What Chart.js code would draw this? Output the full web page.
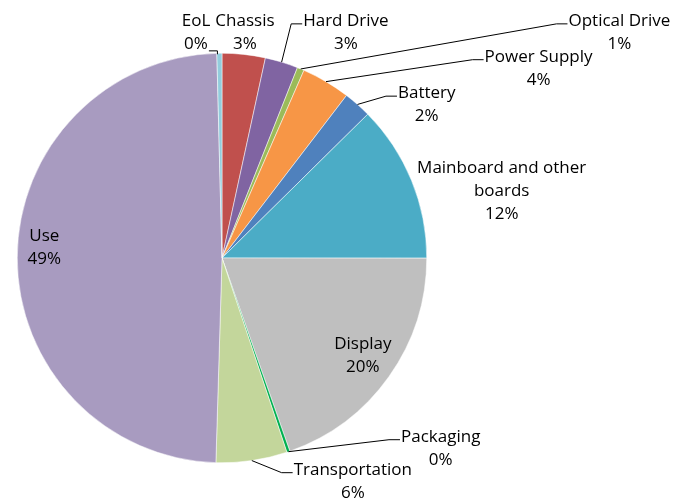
<!DOCTYPE html>
<html>
<head>
<meta charset="utf-8">
<script src="https://cdn.jsdelivr.net/npm/chart.js@4.4.1/dist/chart.umd.min.js"></script>
<style>
  html, body { margin: 0; padding: 0; background: #fff; }
  #wrap { width: 688px; height: 502px; }
</style>
</head>
<body>
<div id="wrap"><canvas id="impact-pie"></canvas></div>
<script>
// slices in drawing order, clockwise from 12 o'clock
const categories = ["Chassis", "Hard Drive", "Optical Drive", "Power Supply", "Battery",
  "Mainboard and other boards", "Display", "Packaging", "Transportation", "Use", "EoL"];
const shares = [3.4, 2.6, 0.55, 3.85, 2.2, 12.4, 19.6, 0.25, 5.6, 49.1, 0.4];
const sliceColors = ["#C0504D", "#8064A2", "#9BBB59", "#F79646", "#4F81BD",
  "#4BACC6", "#BFBFBF", "#00B050", "#C3D69B", "#A89BC0", "#93CDDD"];

// how each label is wrapped
const labelLines = [["Chassis"], ["Hard Drive"], ["Optical Drive"], ["Power Supply"], ["Battery"],
  ["Mainboard and other", "boards"], ["Display"], ["Packaging"], ["Transportation"], ["Use"], ["EoL"]];
// label block centre, in radii from the pie centre
const labelPlace = [[0.112, -1.102], [0.605, -1.102], [1.941, -1.102], [1.546, -0.927], [1.0, -0.749],
  [1.366, -0.327], [0.688, 0.476], [1.068, 0.929], [0.639, 1.09], [-0.868, -0.051], [-0.127, -1.102]];
// which side of the text the leader line leaves from (null = no leader)
const leaderSide = [null, "left", "left", "left", "left", null, null, "left", "left", null, "right"];

const total = shares.reduce((s, v) => s + v, 0);
const FONT = "17px 'Open Sans'";
const LINE_H = 23;

const labelsPlugin = {
  id: "excelLabels",
  afterDatasetsDraw(chart) {
    const ctx = chart.ctx;
    const arcs = chart.getDatasetMeta(0).data;
    ctx.save();
    ctx.font = FONT;
    ctx.fillStyle = "#000";
    ctx.strokeStyle = "#000";
    ctx.lineWidth = 1;
    ctx.textBaseline = "middle";
    ctx.textAlign = "center";
    arcs.forEach((arc, i) => {
      const { x, y, startAngle, endAngle, outerRadius } = arc.getProps(["x", "y", "startAngle", "endAngle", "outerRadius"], true);
      const lines = labelLines[i].concat([Math.round(shares[i] / total * 100) + "%"]);
      const cx = x + labelPlace[i][0] * outerRadius;
      const cy = y + labelPlace[i][1] * outerRadius;
      const top = cy - (lines.length - 1) * LINE_H / 2;
      lines.forEach((t, k) => ctx.fillText(t, cx, top + k * LINE_H));

      const side = leaderSide[i];
      if (!side) return;
      const mid = (startAngle + endAngle) / 2;
      const ex = x + Math.cos(mid) * outerRadius;
      const ey = y + Math.sin(mid) * outerRadius;
      ctx.beginPath();
      if (side === "left") {
        const w = ctx.measureText(lines[0]).width;
        const sx = cx - w / 2 - 1;
        const sy = top + 3;
        ctx.moveTo(sx, sy);
        ctx.lineTo(sx - 11, sy);
        ctx.lineTo(ex, ey);
      } else {
        const last = lines[lines.length - 1];
        const w = ctx.measureText(last).width;
        const sx = cx + w / 2 + 1;
        const sy = top + (lines.length - 1) * LINE_H + 7;
        ctx.moveTo(sx, sy);
        ctx.lineTo(ex - 2, sy);
        ctx.lineTo(ex - 2, ey + 1);
      }
      ctx.stroke();
    });
    ctx.restore();
  }
};

new Chart(document.getElementById("impact-pie"), {
  type: "pie",
  data: {
    labels: categories,
    datasets: [{
      data: shares,
      backgroundColor: sliceColors,
      borderColor: "#ffffff",
      borderWidth: 0.5
    }]
  },
  options: {
    responsive: true,
    maintainAspectRatio: false,
    animation: false,
    layout: { padding: { left: 17, right: 261, top: 53, bottom: 39 } },
    plugins: {
      legend: { display: false },
      tooltip: { enabled: false }
    }
  },
  plugins: [labelsPlugin]
});
</script>
</body>
</html>
